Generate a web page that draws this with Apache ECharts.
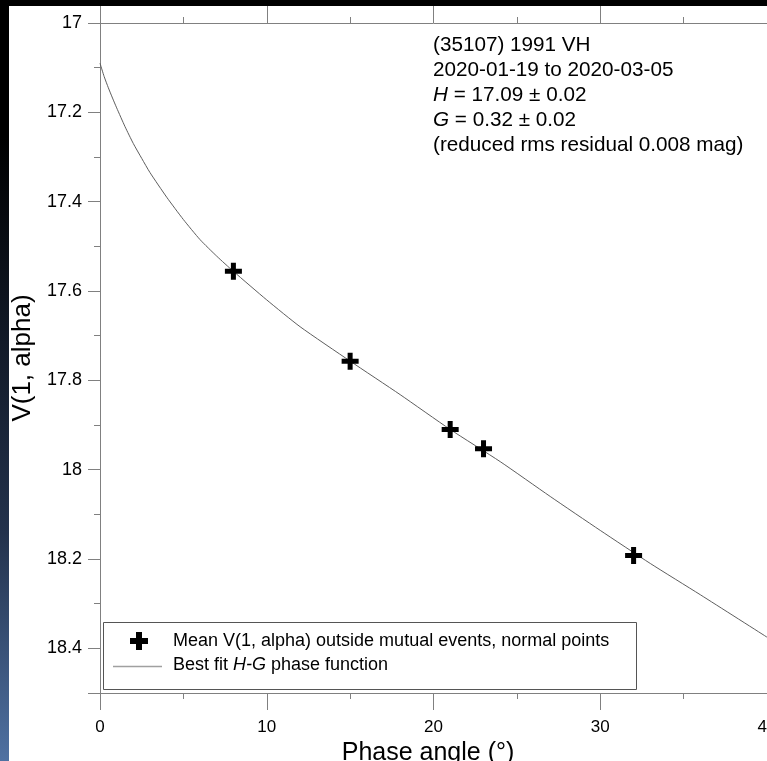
<!DOCTYPE html>
<html>
<head>
<meta charset="utf-8">
<title>(35107) 1991 VH phase curve</title>
<script src="https://cdn.jsdelivr.net/npm/echarts/dist/echarts.min.js"></script>
<style>
	body{margin:0;background:#000;width:767px;height:761px;overflow:hidden;position:relative;}
	#strip{position:absolute;left:0;top:0;width:9px;height:761px;
		background:linear-gradient(to bottom,#000 0%,#000 18%,#121a28 45%,#23324c 70%,#4f71a2 100%);}
	#chart{position:absolute;left:9px;top:6px;width:758px;height:755px;background:#fff;}
</style>
</head>
<body>
<div id="strip"></div>
<div id="chart"></div>
<script>
//观测点（相位角，V(1,alpha)）
var pointAngle = [8, 15, 21, 23, 32];
var pointMag = [17.556, 17.757, 17.91, 17.953, 18.192];

//拟合曲线
var fitAngle = [0, 0.25, 0.5, 0.75, 1, 1.5, 2, 2.5, 3, 4, 5, 6, 7, 8, 10, 12, 15, 18, 21, 24, 27, 30, 33, 36, 40];
var fitMag = [17.09, 17.12, 17.145, 17.168, 17.19, 17.232, 17.27, 17.303, 17.335, 17.39, 17.44, 17.485, 17.522, 17.556,
	17.62, 17.68, 17.757, 17.832, 17.91, 17.982, 18.06, 18.136, 18.21, 18.28, 18.375];

//坐标轴范围
var xRange = [0, 40];
var yRange = [17, 18.5];

var infoLines = ['(35107) 1991 VH', '2020-01-19 to 2020-03-05', '{i|H} = 17.09 ± 0.02', '{i|G} = 0.32 ± 0.02', '(reduced rms residual 0.008 mag)'];
var legendNames = ['Mean V(1, alpha) outside mutual events, normal points', 'Best fit {i|H-G} phase function'];

var font = '"Liberation Sans", Arial, sans-serif';
var axisGray = '#808080';
var crossPath = 'path://M6,0H11V6H17V11H11V17H6V11H0V6H6Z';

function buildPairs(xs, ys){
	var out = [];
	for(var i=0;i<xs.length;i++){
		out.push([xs[i], ys[i]]);
	}
	return out;
}

var myChart = echarts.init(document.getElementById('chart'));

var option = {
	animation: false,
	grid: {left: 91, top: 17, right: 0, bottom: 68, outerBoundsMode: 'none', containLabel: false},
	xAxis: [
		{
			type: 'value', min: xRange[0], max: xRange[1], interval: 10,
			name: 'Phase angle (°)', nameLocation: 'middle', nameGap: 48,
			nameTextStyle: {fontFamily: font, fontSize: 25, color: '#000', padding: [0, 11, 0, 0]},
			axisLine: {show: true, onZero: false, lineStyle: {color: axisGray, width: 1}},
			axisTick: {show: true, inside: false, length: 17, lineStyle: {color: axisGray}},
			minorTick: {show: true, splitNumber: 2, length: 6, lineStyle: {color: axisGray}},
			axisLabel: {fontFamily: font, fontSize: 17, color: '#000', margin: 26},
			splitLine: {show: false}
		},
		{
			type: 'value', position: 'top', min: xRange[0], max: xRange[1], interval: 10,
			axisLine: {show: true, onZero: false, lineStyle: {color: axisGray, width: 1}},
			axisTick: {show: true, inside: false, length: 17, lineStyle: {color: axisGray}},
			minorTick: {show: true, splitNumber: 2, length: 6, lineStyle: {color: axisGray}},
			axisLabel: {show: false},
			splitLine: {show: false}
		}
	],
	yAxis: {
		type: 'value', inverse: true, min: yRange[0], max: yRange[1], interval: 0.2,
		name: 'V(1, alpha)', nameLocation: 'middle', nameGap: 64,
		nameTextStyle: {fontFamily: font, fontSize: 26, color: '#000'},
		axisLine: {show: true, onZero: false, lineStyle: {color: axisGray, width: 1}},
		axisTick: {show: true, inside: false, length: 12, lineStyle: {color: axisGray}},
		minorTick: {show: true, splitNumber: 2, length: 6, lineStyle: {color: axisGray}},
		axisLabel: {
			fontFamily: font, fontSize: 18, color: '#000', margin: 18,
			formatter: function(v){
				if(Math.abs(v - yRange[1]) < 1e-6) return '';
				return String(Math.round(v * 10) / 10);
			}
		},
		splitLine: {show: false}
	},
	series: [
		{
			name: 'fit', type: 'line', xAxisIndex: 0,
			data: buildPairs(fitAngle, fitMag),
			symbol: 'none', smooth: 0.2, z: 2,
			lineStyle: {color: '#5e5e5e', width: 1}
		},
		{
			name: 'points', type: 'scatter', xAxisIndex: 0,
			data: buildPairs(pointAngle, pointMag),
			symbol: crossPath, symbolSize: 17, z: 3,
			itemStyle: {color: '#000', opacity: 1}
		}
	],
	graphic: [
		{
			type: 'text', left: 424, top: 27, z: 10,
			style: {
				text: infoLines.join('\n'), fill: '#000',
				font: '20.7px ' + font, lineHeight: 25,
				rich: {i: {fontStyle: 'italic', fontSize: 20.7, fontFamily: font, lineHeight: 25}}
			}
		},
		{
			type: 'rect', z: 10,
			shape: {x: 94.5, y: 616.5, width: 533, height: 67},
			style: {fill: '#fff', stroke: '#555', lineWidth: 1}
		},
		{
			type: 'polygon', z: 11,
			shape: {points: [[127,626],[133,626],[133,632],[139,632],[139,638],[133,638],[133,644],[127,644],[127,638],[121,638],[121,632],[127,632]]},
			style: {fill: '#000'}
		},
		{
			type: 'line', z: 11,
			shape: {x1: 104, y1: 660.5, x2: 153, y2: 660.5},
			style: {stroke: '#a0a0a0', lineWidth: 1.5}
		},
		{
			type: 'text', z: 11, x: 164, y: 635,
			style: {text: legendNames[0], fill: '#000', font: '18px ' + font, verticalAlign: 'middle'}
		},
		{
			type: 'text', z: 11, x: 164, y: 659,
			style: {
				text: legendNames[1], fill: '#000', font: '18px ' + font, verticalAlign: 'middle',
				rich: {i: {fontStyle: 'italic', fontSize: 18, fontFamily: font}}
			}
		}
	]
};

myChart.setOption(option);
</script>
</body>
</html>
